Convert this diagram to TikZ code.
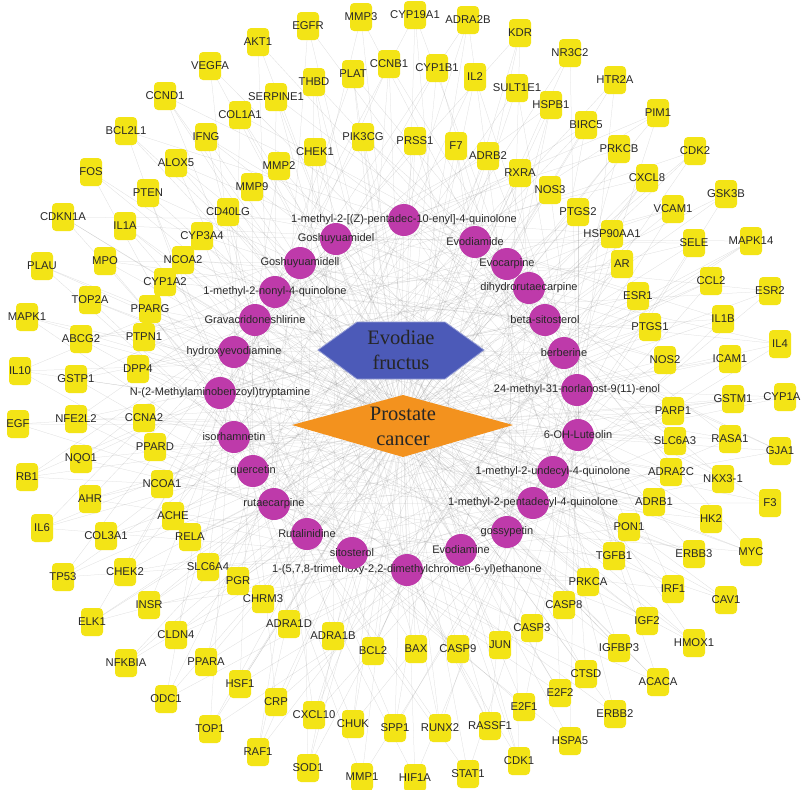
\documentclass[tikz,border=0pt]{standalone}
\usepackage{fontspec}
\setmainfont{Liberation Serif}
\setsansfont{Liberation Sans}
\usetikzlibrary{backgrounds}

\definecolor{geneyellow}{RGB}{243,228,22}
\definecolor{herbpink}{RGB}{190,58,170}
\definecolor{herbblue}{RGB}{76,90,184}
\definecolor{pcaorange}{RGB}{243,146,30}
\definecolor{meshgray}{RGB}{120,120,120}
\definecolor{labelgray}{RGB}{40,40,40}

\tikzset{
  gene/.style={fill=geneyellow, rounded corners=4pt, minimum width=22pt, minimum height=28pt, inner sep=0pt},
  genetext/.style={font=\sffamily\fontsize{11.3}{13}\selectfont, text=labelgray, inner sep=0pt},
  herb/.style={circle, fill=herbpink, minimum size=32pt, inner sep=0pt},
  herbtext/.style={font=\sffamily\fontsize{11}{13}\selectfont, text=labelgray, inner sep=0pt},
  hubtext/.style={font=\fontsize{20.5}{25}\selectfont, text=black!85, align=center, inner sep=0pt},
  mesh/.style={draw=meshgray, line width=0.25pt, opacity=0.27},
}

\begin{document}
\begin{tikzpicture}[x=1pt,y=-1pt]
\useasboundingbox (0,0) rectangle (801,790);

% central hubs
\fill[herbblue, draw=herbblue!60!white, line width=0.8pt] (318,350) -- (357,322) -- (445,322) -- (484,350) -- (445,379) -- (357,379) -- cycle;
\node (evo)[hubtext] at (401,350) {Evodiae\\fructus};
\fill[pcaorange] (292,425) -- (403,395) -- (513,425) -- (403,457) -- cycle;
\node (pca)[hubtext] at (403,426) {Prostate\\cancer};

% compounds
\foreach \x/\y/\lbl [count=\k] in {
  404/220/{1-methyl-2-[(Z)-pentadec-10-enyl]-4-quinolone}, 475/242/Evodiamide, 507/264/Evocarpine,
  529/288/dihydrorutaecarpine, 545/320/beta-sitosterol, 564/353/berberine,
  577/390/{24-methyl-31-norlanost-9(11)-enol}, 578/435/6-OH-Luteolin,
  553/472/1-methyl-2-undecyl-4-quinolone, 533/503/1-methyl-2-pentadecyl-4-quinolone,
  507/532/gossypetin, 461/550/Evodiamine,
  407/570/{1-(5,7,8-trimethoxy-2,2-dimethylchromen-6-yl)ethanone}, 352/553/sitosterol,
  307/534/Rutalinidine, 274/504/rutaecarpine, 253/471/quercetin, 234/437/isorhamnetin,
  220/393/{N-(2-Methylaminobenzoyl)tryptamine}, 234/352/hydroxyevodiamine,
  255/320/Gravacridoneshlirine, 275/292/1-methyl-2-nonyl-4-quinolone,
  300/263/Goshuyuamidell, 336/239/Goshuyuamidel}
  \node (h\k)[herb, label={[herbtext]center:{\lbl}}] at (\x,\y) {};

% targets
\foreach \x/\y/\lbl [count=\k] in {
  258/42/AKT1, 210/66/VEGFA, 165/96/CCND1, 126/131/BCL2L1, 240/115/COL1A1, 206/137/IFNG,
  276/97/SERPINE1, 176/163/ALOX5, 91/172/FOS, 148/193/PTEN, 252/187/MMP9, 228/212/CD40LG,
  63/217/CDKN1A, 125/226/IL1A, 202/236/CYP3A4, 183/260/NCOA2, 105/261/MPO, 42/266/PLAU,
  308/26/EGFR, 361/17/MMP3, 415/15/CYP19A1, 468/20/ADRA2B, 520/33/KDR, 314/82/THBD,
  353/74/PLAT, 389/64/CCNB1, 437/68/CYP1B1, 475/77/IL2, 517/88/SULT1E1, 363/137/PIK3CG,
  415/141/PRSS1, 456/146/F7, 488/156/ADRB2, 520/173/RXRA, 315/152/CHEK1, 279/166/MMP2,
  570/53/NR3C2, 615/80/HTR2A, 551/105/HSPB1, 658/113/PIM1, 586/125/BIRC5, 619/149/PRKCB,
  695/151/CDK2, 647/178/CXCL8, 726/194/GSK3B, 550/190/NOS3, 578/212/PTGS2, 673/209/VCAM1,
  612/234/HSP90AA1, 694/243/SELE, 751/241/MAPK14, 622/264/AR,
  165/282/CYP1A2, 90/300/TOP2A, 150/309/PPARG, 27/317/MAPK1, 81/339/ABCG2, 144/337/PTPN1,
  138/369/DPP4, 20/371/IL10, 76/379/GSTP1, 76/419/NFE2L2, 144/418/CCNA2, 18/424/EGF,
  155/447/PPARD, 81/459/NQO1, 27/477/RB1, 162/484/NCOA1, 90/499/AHR, 173/516/ACHE,
  42/528/IL6, 106/536/COL3A1, 190/537/RELA,
  711/281/CCL2, 770/291/ESR2, 638/296/ESR1, 723/319/IL1B, 650/327/PTGS1, 780/344/IL4,
  665/360/NOS2, 730/359/ICAM1, 785/397/CYP1A1, 733/399/GSTM1, 673/411/PARP1, 675/441/SLC6A3,
  730/439/RASA1, 780/451/GJA1, 671/472/ADRA2C, 723/479/NKX3-1, 654/502/ADRB1, 770/503/F3,
  711/519/HK2, 629/527/PON1,
  694/554/ERBB3, 751/552/MYC, 614/556/TGFB1, 588/582/PRKCA, 673/589/IRF1, 726/600/CAV1,
  564/605/CASP8, 532/628/CASP3, 647/621/IGF2, 694/643/HMOX1, 619/648/IGFBP3, 586/674/CTSD,
  658/682/ACACA, 560/693/E2F2, 615/714/ERBB2, 570/741/HSPA5, 524/707/E2F1, 519/761/CDK1,
  263/599/CHRM3, 289/624/ADRA1D, 333/636/ADRA1B, 373/651/BCL2, 416/649/BAX, 458/649/CASP9,
  500/645/JUN, 276/702/CRP, 314/715/CXCL10, 353/724/CHUK, 395/728/SPP1, 440/728/RUNX2,
  490/726/RASSF1, 308/768/SOD1, 362/777/MMP1, 415/778/HIF1A, 468/774/STAT1,
  63/577/TP53, 125/572/CHEK2, 208/567/SLC6A4, 238/581/PGR, 149/605/INSR, 92/622/ELK1,
  176/635/CLDN4, 126/663/NFKBIA, 206/662/PPARA, 240/684/HSF1, 166/699/ODC1, 210/729/TOP1,
  258/752/RAF1}
  {\node (g\k)[gene, label={[genetext]center:{\lbl}}] at (\x,\y) {};
   \xdef\ngene{\k}}

% connectors
\begin{scope}[on background layer]
  \fill[white] (0,0) rectangle (801,790);
  \foreach \i in {1,...,24}
    \draw[mesh] (evo.center) -- (h\i.center);
  \foreach \j in {1,...,\ngene}
    \draw[mesh] (pca.center) -- (g\j.center);
  \foreach \i in {1,...,24}
    \foreach \j in {1,...,\ngene} {
      \pgfmathtruncatemacro\pick{mod(\i*7+\j*11+\i*\j*3,9)}
      \ifnum\pick=0 \draw[mesh] (h\i.center) -- (g\j.center); \fi
    }
\end{scope}
\end{tikzpicture}
\end{document}
